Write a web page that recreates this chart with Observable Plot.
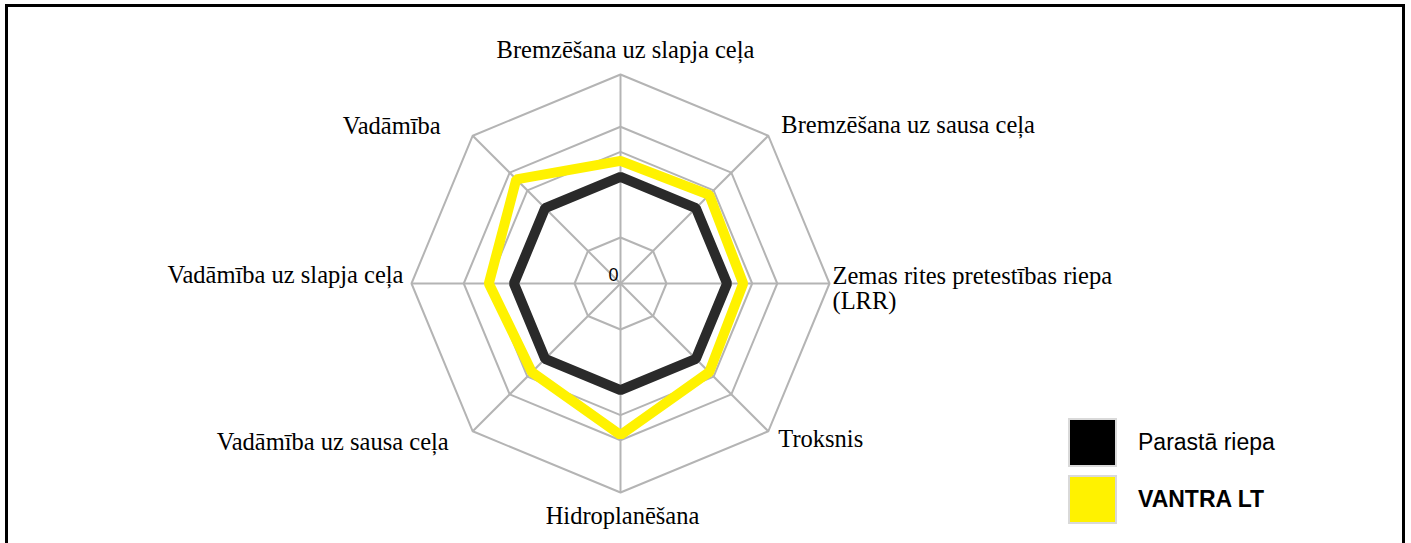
<!DOCTYPE html>
<html>
<head>
<meta charset="utf-8">
<script src="https://cdn.jsdelivr.net/npm/d3@7"></script>
<script src="https://cdn.jsdelivr.net/npm/@observablehq/plot@0.6"></script>
<style>
  html, body { margin: 0; padding: 0; background: #fff; overflow: hidden; }
  #frame { position: absolute; left: 5px; top: 4px; width: 1394px; height: 600px; border: 3px solid #000; box-sizing: content-box; }
  #chart { position: absolute; left: 0; top: 0; }
  .legend { position: absolute; left: 1068px; font-family: "Liberation Sans", Arial, sans-serif; font-size: 23px; color: #000; }
  .legend .row { position: absolute; left: 0; width: 300px; height: 49px; }
  .legend .sw { position: absolute; left: 0; top: 0; width: 45px; height: 45px; border: 2px solid #d9d9d9; }
  .legend .lb { position: absolute; left: 70px; top: 0; line-height: 49px; white-space: nowrap; }
</style>
</head>
<body>
<div id="frame"></div>
<div id="chart"></div>
<div class="legend" id="legend"></div>
<script>
// ---- data ----
const categories = [
  "Bremzēšana uz slapja ceļa",
  "Bremzēšana uz sausa ceļa",
  "Zemas rites pretestības riepa\n(LRR)",
  "Troksnis",
  "Hidroplanēšana",
  "Vadāmība uz sausa ceļa",
  "Vadāmība uz slapja ceļa",
  "Vadāmība"
];
const seriesNames = ["Parastā riepa", "VANTRA LT"];
const parastaRiepa = [0.51, 0.51, 0.51, 0.51, 0.51, 0.51, 0.51, 0.51];
const vantraLT = [0.587, 0.60, 0.587, 0.60, 0.725, 0.60, 0.63, 0.705];
const gridLevels = [0.22, 0.63, 0.75, 1];
const centerLabel = "0";

// ---- helpers ----
const n = categories.length;
const ang = i => (i * 2 * Math.PI) / n;
const px = (r, i) => r * Math.sin(ang(i));
const py = (r, i) => r * Math.cos(ang(i));

const ringPts = gridLevels.flatMap(level => categories.map((c, i) => ({level, x: px(level, i), y: py(level, i)})));
const spokes = categories.map((c, i) => ({x2: px(1, i), y2: py(1, i)}));
const seriesPts = [parastaRiepa, vantraLT].flatMap((vals, s) =>
  vals.map((v, i) => ({series: seriesNames[s], x: px(v, i), y: py(v, i)})));
const labelPts = categories.map((c, i) => ({label: c, i, x: px(1, i), y: py(1, i)}));

// label placement styles (anchor + pixel offsets from outer vertex)
const labelStyle = [
  {anchor: "middle", dx: 5, dy: -17},
  {anchor: "start", dx: 13, dy: -3},
  {anchor: "start", dx: 3, dy: 25},
  {anchor: "start", dx: 10, dy: 16},
  {anchor: "middle", dx: 2, dy: 31},
  {anchor: "end", dx: -24, dy: 19},
  {anchor: "end", dx: -8, dy: -1},
  {anchor: "end", dx: -32, dy: -2}
];

const R = 209, cx = 620, cy = 283;
const labelMarks = labelPts.map(d => Plot.text([d], {
  x: "x", y: "y", text: "label",
  textAnchor: labelStyle[d.i].anchor, lineAnchor: "bottom", lineHeight: 1.0,
  dx: labelStyle[d.i].dx, dy: labelStyle[d.i].dy,
  fontFamily: "Liberation Serif, Times New Roman, serif", fontSize: 24.5, fill: "#000"
}));

const chart = Plot.plot({
  width: 1411, height: 543,
  margin: 0,
  x: {domain: [-1, 1], range: [cx - R, cx + R], axis: null},
  y: {domain: [-1, 1], range: [cy + R, cy - R], axis: null},
  style: {background: "transparent", overflow: "visible"},
  marks: [
    Plot.line(ringPts, {x: "x", y: "y", z: "level", curve: "linear-closed", stroke: "#b4b4b4", strokeWidth: 2, strokeLinejoin: "miter"}),
    Plot.link(spokes, {x1: 0, y1: 0, x2: "x2", y2: "y2", stroke: "#b4b4b4", strokeWidth: 2}),
    Plot.line(seriesPts, {x: "x", y: "y", z: "series", curve: "linear-closed",
      stroke: d => d.series, strokeWidth: 10, strokeLinejoin: "miter", strokeLinecap: "butt"}),
    Plot.text([centerLabel], {x: 0, y: 0, text: d => d, textAnchor: "end", lineAnchor: "bottom", dx: -2, dy: -3,
      fontFamily: "Liberation Sans, Arial, sans-serif", fontSize: 18, fill: "#000"}),
    ...labelMarks
  ],
  color: {domain: seriesNames, range: ["#2a2a2a", "#fff200"]}
});
document.getElementById("chart").appendChild(chart);

// legend
const legendColors = ["#000000", "#fff200"];
const legend = document.getElementById("legend");
seriesNames.forEach((name, i) => {
  const row = document.createElement("div");
  row.className = "row";
  row.style.top = (418 + i * 57) + "px";
  const sw = document.createElement("div");
  sw.className = "sw";
  sw.style.background = legendColors[i];
  const lb = document.createElement("div");
  lb.className = "lb";
  lb.textContent = name;
  if (i === 1) lb.style.fontWeight = "bold";
  row.appendChild(sw); row.appendChild(lb);
  legend.appendChild(row);
});
</script>
</body>
</html>
